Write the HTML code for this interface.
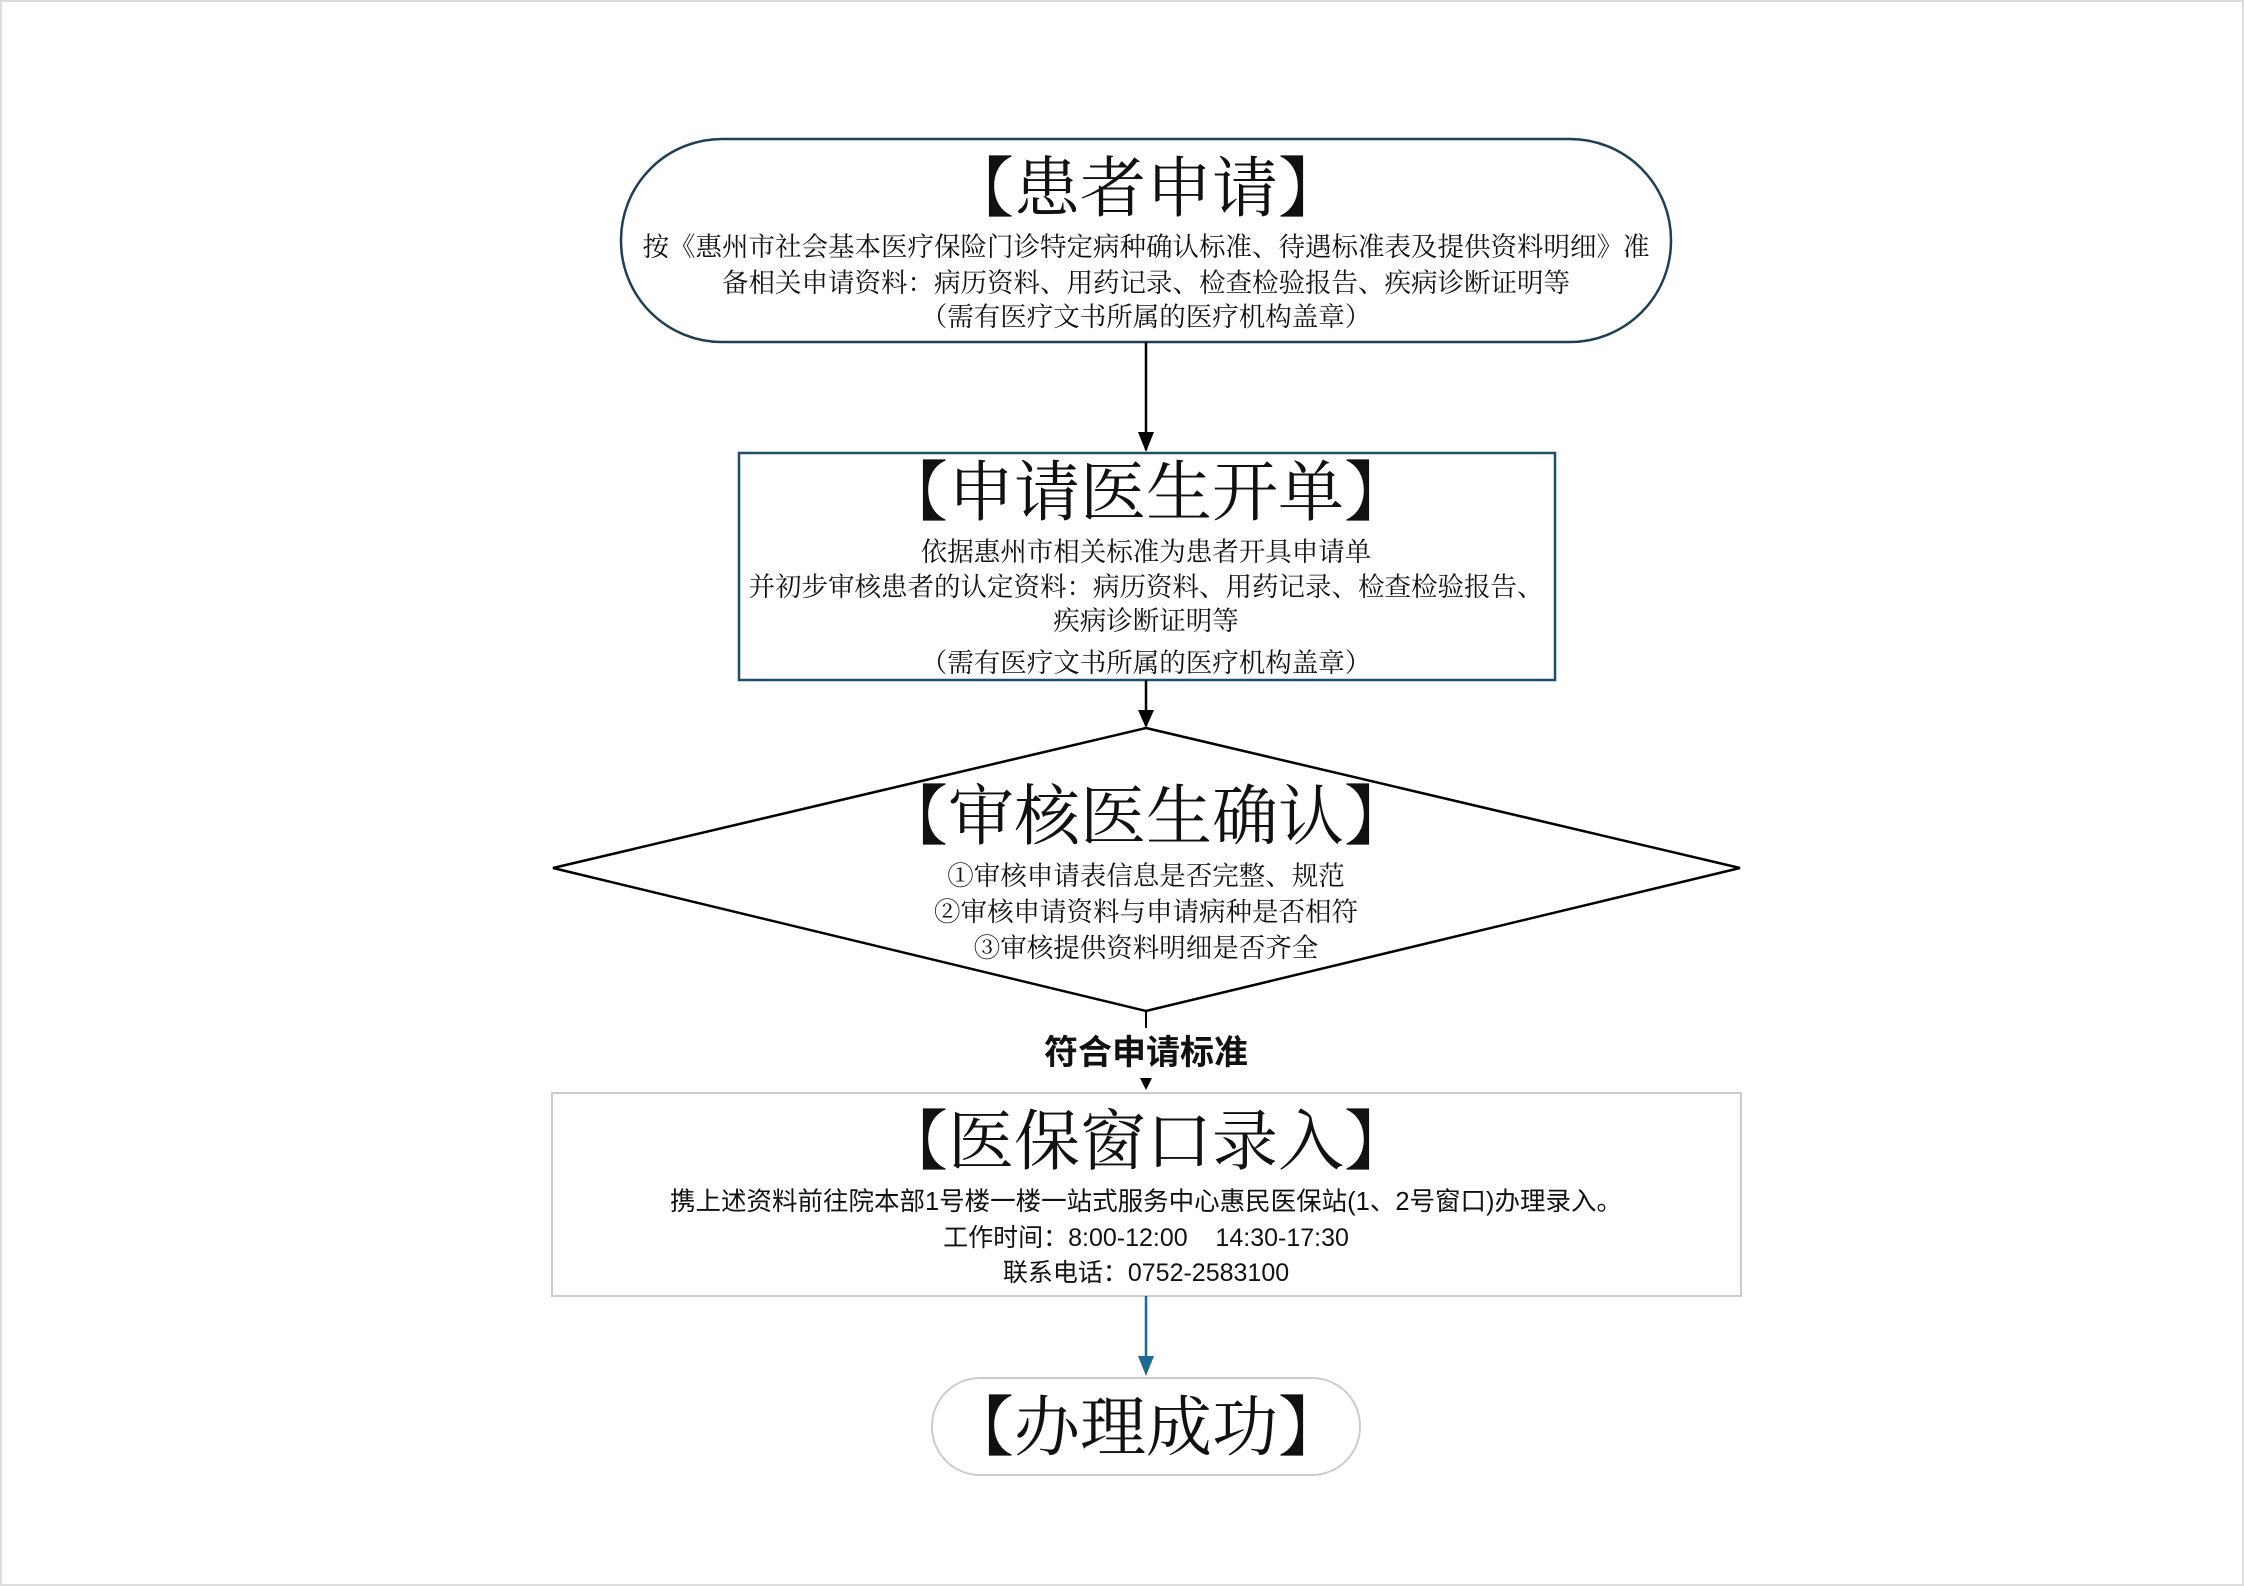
<!DOCTYPE html>
<html><head><meta charset="utf-8"><style>
html,body{margin:0;padding:0;background:#fff;}
svg{display:block;}
text{font-family:"Liberation Serif","Noto Serif CJK SC",serif;fill:#111;}
.t{font-size:66px;}
.b{font-size:26.5px;}
.s{font-family:"Liberation Sans","Noto Sans CJK SC",sans-serif;font-size:25px;}
</style></head><body>
<svg width="2244" height="1586" viewBox="0 0 2244 1586" xmlns="http://www.w3.org/2000/svg">
<rect x="1" y="1" width="2242" height="1584" fill="none" stroke="#ddd" stroke-width="2"/>
<rect x="621" y="139" width="1050" height="203" rx="101" fill="#fff" stroke="#1f3f55" stroke-width="2.5"/>
<text class="t" x="1146" y="211" text-anchor="middle">【患者申请】</text>
<text class="b" x="1146" y="256" text-anchor="middle">按《惠州市社会基本医疗保险门诊特定病种确认标准、待遇标准表及提供资料明细》准</text>
<text class="b" x="1146" y="292" text-anchor="middle">备相关申请资料：病历资料、用药记录、检查检验报告、疾病诊断证明等</text>
<text class="b" x="1146" y="326" text-anchor="middle">（需有医疗文书所属的医疗机构盖章）</text>
<line x1="1146" y1="342" x2="1146" y2="450" stroke="#000" stroke-width="2.5"/>
<path d="M1138,432 L1154,432 L1146,452 z" fill="#000"/>
<rect x="739" y="453" width="816" height="227" fill="#fff" stroke="#1f4f6a" stroke-width="2.5"/>
<text class="t" x="1146" y="515" text-anchor="middle">【申请医生开单】</text>
<text class="b" x="1146" y="561" text-anchor="middle">依据惠州市相关标准为患者开具申请单</text>
<text class="b" x="1146" y="596" text-anchor="middle">并初步审核患者的认定资料：病历资料、用药记录、检查检验报告、</text>
<text class="b" x="1146" y="630" text-anchor="middle">疾病诊断证明等</text>
<text class="b" x="1146" y="672" text-anchor="middle">（需有医疗文书所属的医疗机构盖章）</text>
<line x1="1146" y1="680" x2="1146" y2="726" stroke="#000" stroke-width="2.5"/>
<path d="M1138,710 L1154,710 L1146,728 z" fill="#000"/>
<polygon points="1146,728 1740,868 1146,1011 553,868" fill="#fff" stroke="#000" stroke-width="2.5"/>
<text class="t" x="1146" y="839" text-anchor="middle">【审核医生确认】</text>
<text class="b" x="1146" y="885" text-anchor="middle">①审核申请表信息是否完整、规范</text>
<text class="b" x="1146" y="921" text-anchor="middle">②审核申请资料与申请病种是否相符</text>
<text class="b" x="1146" y="957" text-anchor="middle">③审核提供资料明细是否齐全</text>
<line x1="1146" y1="1011" x2="1146" y2="1028" stroke="#000" stroke-width="2"/>
<text x="1146" y="1064" text-anchor="middle" style="font-family:'Liberation Sans','Noto Sans CJK SC',sans-serif;font-size:34px;font-weight:bold;">符合申请标准</text>
<path d="M1140,1078 L1152,1078 L1146,1090 z" fill="#000"/>
<rect x="552" y="1093" width="1189" height="203" fill="#fff" stroke="#ccc" stroke-width="2"/>
<text class="t" x="1146" y="1164" text-anchor="middle">【医保窗口录入】</text>
<text class="s" x="1146" y="1210" text-anchor="middle" style="font-size:25.5px">携上述资料前往院本部1号楼一楼一站式服务中心惠民医保站(1、2号窗口)办理录入。</text>
<text class="s" x="1146" y="1246" text-anchor="middle" xml:space="preserve">工作时间：8:00-12:00    14:30-17:30</text>
<text class="s" x="1146" y="1281" text-anchor="middle">联系电话：0752-2583100</text>
<line x1="1146" y1="1296" x2="1146" y2="1360" stroke="#1f6a8f" stroke-width="2.5"/>
<path d="M1138,1356 L1154,1356 L1146,1376 z" fill="#1f6a8f"/>
<rect x="932" y="1378" width="428" height="97" rx="48" fill="#fff" stroke="#ccc" stroke-width="2"/>
<text class="t" x="1146" y="1450" text-anchor="middle">【办理成功】</text>
</svg>
</body></html>
